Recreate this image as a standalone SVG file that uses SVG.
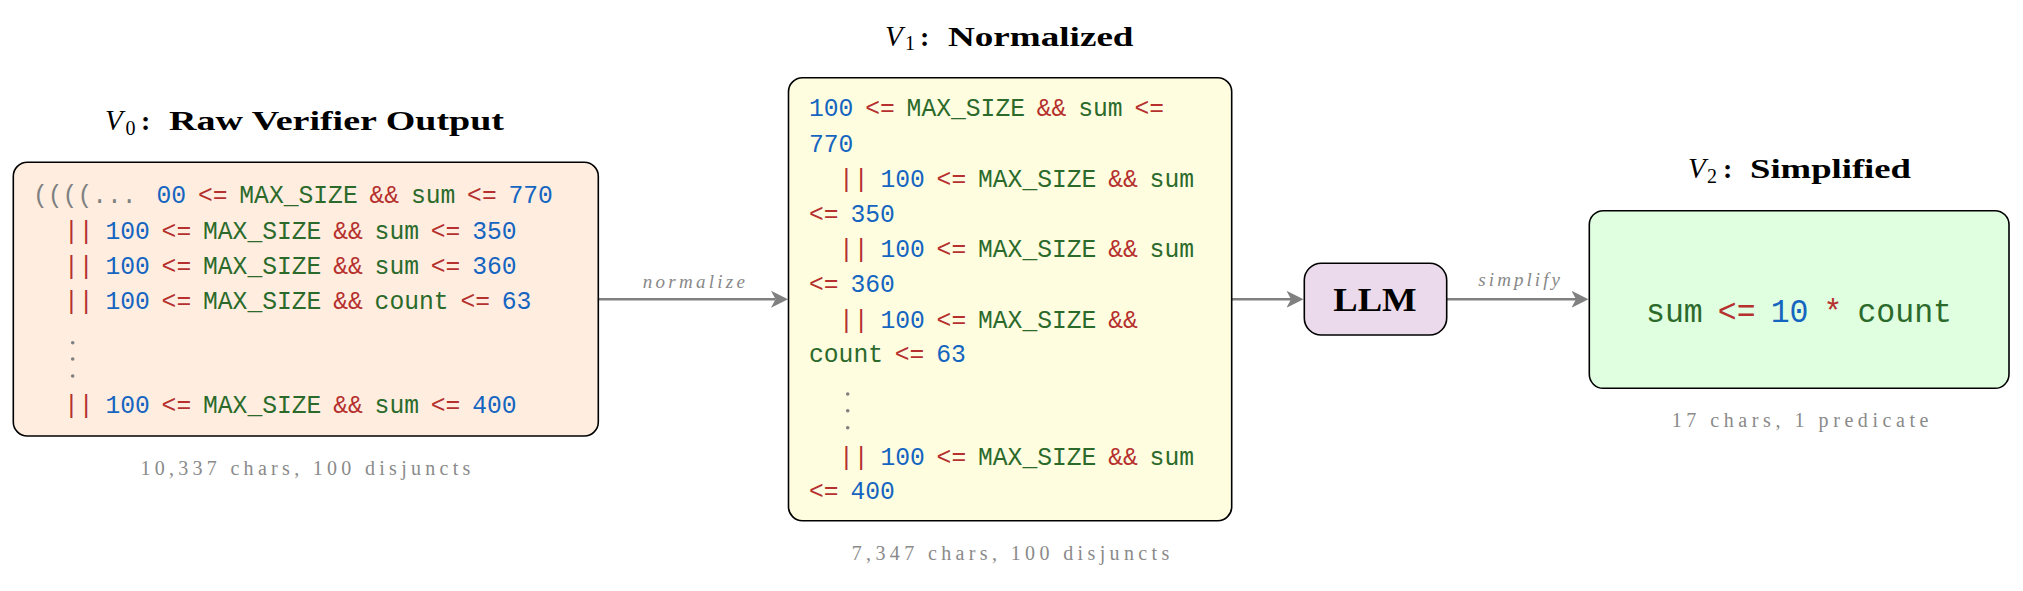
<svg xmlns="http://www.w3.org/2000/svg" width="2023" height="591" viewBox="0 0 2023 591">
<style>
.box{stroke:#000;stroke-width:1.6}
.code{font-family:"Liberation Mono","DejaVu Sans Mono",monospace;font-size:26px;word-spacing:-3.2px}
.big{font-size:33.2px;word-spacing:-4.1px}
.b{fill:#1565C0}.r{fill:#B5302E}.g{fill:#2B6A2B}.gy{fill:#808080}
.t{font-family:"Liberation Serif",serif;font-size:28px;font-weight:bold;fill:#000}
.ti{font-family:"Liberation Serif",serif;font-size:29px;font-style:italic;fill:#000}
.ts{font-family:"Liberation Serif",serif;font-size:20px;fill:#000}
.note{font-family:"Liberation Serif",serif;font-size:20px;fill:#8a8a8a}
.lbl{font-family:"Liberation Serif",serif;font-size:19px;font-style:italic;fill:#888}
.arrow{stroke:#808080;stroke-width:2.6;fill:none;marker-end:url(#ah)}
.dot{fill:#808080}
</style>
<defs>
<marker id="ah" markerUnits="userSpaceOnUse" markerWidth="20" markerHeight="20" viewBox="0 -10 20 20" refX="4.5" refY="0" orient="auto"><path d="M0,-8.5 L17,0 L0,8.5 L4.5,0 Z" fill="#808080"/></marker>
</defs>
<rect width="2023" height="591" fill="#fff"/>

<g id="connectors">
<line class="arrow" x1="599" y1="299.3" x2="775.5" y2="299.3"/>
<text class="lbl" x="642.7" y="288.3" textLength="102.3" lengthAdjust="spacing">normalize</text>
<line class="arrow" x1="1232" y1="299.3" x2="1291" y2="299.3"/>
<line class="arrow" x1="1447" y1="299.3" x2="1576" y2="299.3"/>
<text class="lbl" x="1478.3" y="286" textLength="81.7" lengthAdjust="spacing">simplify</text>
</g>

<g id="v0">
<text x="105" y="130"><tspan class="ti">V</tspan></text>
<text class="ts" x="125.5" y="134.5">0</text>
<text class="t" x="141" y="130">:</text>
<text class="t" x="169" y="130" textLength="335" lengthAdjust="spacingAndGlyphs">Raw Verifier Output</text>
<rect class="box" x="13.3" y="162.3" width="585" height="273.7" rx="14" fill="#FFEEE0"/>
<text class="code gy" x="33" y="203" textLength="103.6" lengthAdjust="spacingAndGlyphs">((((...</text>
<text class="code" x="156.5" y="203" textLength="396.4" lengthAdjust="spacingAndGlyphs"><tspan class="b">00</tspan> <tspan class="r">&lt;=</tspan> <tspan class="g">MAX_SIZE</tspan> <tspan class="r">&amp;&amp;</tspan> <tspan class="g">sum</tspan> <tspan class="r">&lt;=</tspan> <tspan class="b">770</tspan></text>
<text class="code" x="64" y="239.3" textLength="452.6" lengthAdjust="spacingAndGlyphs"><tspan class="r">||</tspan> <tspan class="b">100</tspan> <tspan class="r">&lt;=</tspan> <tspan class="g">MAX_SIZE</tspan> <tspan class="r">&amp;&amp;</tspan> <tspan class="g">sum</tspan> <tspan class="r">&lt;=</tspan> <tspan class="b">350</tspan></text>
<text class="code" x="64" y="274.3" textLength="452.6" lengthAdjust="spacingAndGlyphs"><tspan class="r">||</tspan> <tspan class="b">100</tspan> <tspan class="r">&lt;=</tspan> <tspan class="g">MAX_SIZE</tspan> <tspan class="r">&amp;&amp;</tspan> <tspan class="g">sum</tspan> <tspan class="r">&lt;=</tspan> <tspan class="b">360</tspan></text>
<text class="code" x="64" y="309.3" textLength="467.4" lengthAdjust="spacingAndGlyphs"><tspan class="r">||</tspan> <tspan class="b">100</tspan> <tspan class="r">&lt;=</tspan> <tspan class="g">MAX_SIZE</tspan> <tspan class="r">&amp;&amp;</tspan> <tspan class="g">count</tspan> <tspan class="r">&lt;=</tspan> <tspan class="b">63</tspan></text>
<circle class="dot" cx="72.7" cy="342.7" r="1.8"/>
<circle class="dot" cx="72.7" cy="359" r="1.8"/>
<circle class="dot" cx="72.7" cy="376" r="1.8"/>
<text class="code" x="64" y="413.3" textLength="452.6" lengthAdjust="spacingAndGlyphs"><tspan class="r">||</tspan> <tspan class="b">100</tspan> <tspan class="r">&lt;=</tspan> <tspan class="g">MAX_SIZE</tspan> <tspan class="r">&amp;&amp;</tspan> <tspan class="g">sum</tspan> <tspan class="r">&lt;=</tspan> <tspan class="b">400</tspan></text>
<text class="note" x="140.4" y="475" textLength="330" lengthAdjust="spacing">10,337 chars, 100 disjuncts</text>
</g>

<g id="v1">
<text x="885" y="45.7"><tspan class="ti">V</tspan></text>
<text class="ts" x="905" y="50">1</text>
<text class="t" x="920" y="45.7">:</text>
<text class="t" x="948" y="45.7" textLength="185.5" lengthAdjust="spacingAndGlyphs">Normalized</text>
<rect class="box" x="788.5" y="77.8" width="443.2" height="442.9" rx="14" fill="#FFFDE0"/>
<text class="code" x="809" y="115.7" textLength="355" lengthAdjust="spacingAndGlyphs"><tspan class="b">100</tspan> <tspan class="r">&lt;=</tspan> <tspan class="g">MAX_SIZE</tspan> <tspan class="r">&amp;&amp;</tspan> <tspan class="g">sum</tspan> <tspan class="r">&lt;=</tspan></text>
<text class="code b" x="809" y="151.7" textLength="44.4" lengthAdjust="spacingAndGlyphs">770</text>
<text class="code" x="839" y="186.7" textLength="355" lengthAdjust="spacingAndGlyphs"><tspan class="r">||</tspan> <tspan class="b">100</tspan> <tspan class="r">&lt;=</tspan> <tspan class="g">MAX_SIZE</tspan> <tspan class="r">&amp;&amp;</tspan> <tspan class="g">sum</tspan></text>
<text class="code" x="809" y="221.7" textLength="85.8" lengthAdjust="spacingAndGlyphs"><tspan class="r">&lt;=</tspan> <tspan class="b">350</tspan></text>
<text class="code" x="839" y="257.3" textLength="355" lengthAdjust="spacingAndGlyphs"><tspan class="r">||</tspan> <tspan class="b">100</tspan> <tspan class="r">&lt;=</tspan> <tspan class="g">MAX_SIZE</tspan> <tspan class="r">&amp;&amp;</tspan> <tspan class="g">sum</tspan></text>
<text class="code" x="809" y="292.3" textLength="85.8" lengthAdjust="spacingAndGlyphs"><tspan class="r">&lt;=</tspan> <tspan class="b">360</tspan></text>
<text class="code" x="839" y="328.3" textLength="298.8" lengthAdjust="spacingAndGlyphs"><tspan class="r">||</tspan> <tspan class="b">100</tspan> <tspan class="r">&lt;=</tspan> <tspan class="g">MAX_SIZE</tspan> <tspan class="r">&amp;&amp;</tspan></text>
<text class="code" x="809" y="362.3" textLength="156.8" lengthAdjust="spacingAndGlyphs"><tspan class="g">count</tspan> <tspan class="r">&lt;=</tspan> <tspan class="b">63</tspan></text>
<circle class="dot" cx="847.7" cy="394" r="1.8"/>
<circle class="dot" cx="847.7" cy="410.7" r="1.8"/>
<circle class="dot" cx="847.7" cy="427.7" r="1.8"/>
<text class="code" x="839" y="465" textLength="355" lengthAdjust="spacingAndGlyphs"><tspan class="r">||</tspan> <tspan class="b">100</tspan> <tspan class="r">&lt;=</tspan> <tspan class="g">MAX_SIZE</tspan> <tspan class="r">&amp;&amp;</tspan> <tspan class="g">sum</tspan></text>
<text class="code" x="809" y="499.3" textLength="85.8" lengthAdjust="spacingAndGlyphs"><tspan class="r">&lt;=</tspan> <tspan class="b">400</tspan></text>
<text class="note" x="851.7" y="560" textLength="317.6" lengthAdjust="spacing">7,347 chars, 100 disjuncts</text>
</g>

<g id="llm">
<rect class="box" x="1304.3" y="263.3" width="142.4" height="71.7" rx="17" fill="#EBDAEB"/>
<text class="t" x="1333.3" y="310.7" style="font-size:33px" textLength="83.3" lengthAdjust="spacingAndGlyphs">LLM</text>
</g>

<g id="v2">
<text x="1688" y="178.3"><tspan class="ti">V</tspan></text>
<text class="ts" x="1707" y="182.6">2</text>
<text class="t" x="1723" y="178.3">:</text>
<text class="t" x="1750" y="178.3" textLength="161" lengthAdjust="spacingAndGlyphs">Simplified</text>
<rect class="box" x="1589.3" y="210.7" width="419.7" height="177.6" rx="14" fill="#E0FFE0"/>
<text class="code big" x="1646" y="321.7" textLength="306" lengthAdjust="spacingAndGlyphs"><tspan class="g">sum</tspan> <tspan class="r">&lt;=</tspan> <tspan class="b">10</tspan> <tspan class="r">*</tspan> <tspan class="g">count</tspan></text>
<text class="note" x="1671.7" y="427" textLength="256.7" lengthAdjust="spacing">17 chars, 1 predicate</text>
</g>
</svg>
